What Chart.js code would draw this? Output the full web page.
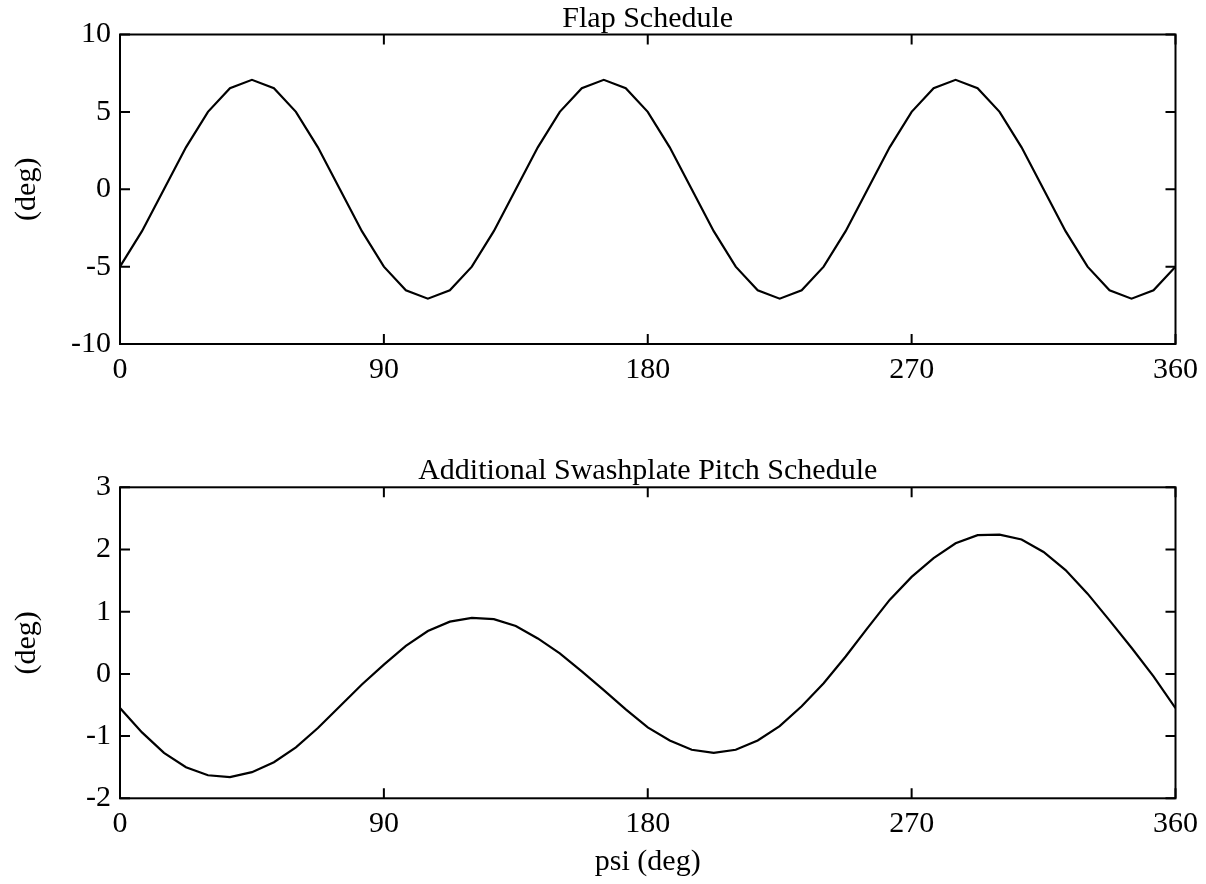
<!DOCTYPE html>
<html>
<head>
<meta charset="utf-8">
<title>Flap and Swashplate Pitch Schedules</title>
<script src="https://cdn.jsdelivr.net/npm/chart.js@4/dist/chart.umd.min.js"></script>
<style>
  html, body { margin: 0; padding: 0; background: #fff; }
  #page { position: relative; width: 1206px; height: 884px; overflow: hidden; }
  #flapChart { position: absolute; left: 0; top: 0; }
  #swashChart { position: absolute; left: 0; top: 440px; }
</style>
</head>
<body>
<div id="page">
  <canvas id="flapChart" width="1206" height="400"></canvas>
  <canvas id="swashChart" width="1206" height="444"></canvas>
</div>
<script>
// azimuth psi (deg), one point every 7.5 deg
const psi = [0, 7.5, 15, 22.5, 30, 37.5, 45, 52.5, 60, 67.5, 75, 82.5,
    90, 97.5, 105, 112.5, 120, 127.5, 135, 142.5, 150, 157.5, 165, 172.5,
    180, 187.5, 195, 202.5, 210, 217.5, 225, 232.5, 240, 247.5, 255, 262.5,
    270, 277.5, 285, 292.5, 300, 307.5, 315, 322.5, 330, 337.5, 345, 352.5, 360];

// flap schedule (deg)
const flap = [-5.0, -2.71, 0.0, 2.71, 5.0, 6.53, 7.07, 6.53, 5.0, 2.71, 0.0, -2.71,
    -5.0, -6.53, -7.07, -6.53, -5.0, -2.71, 0.0, 2.71, 5.0, 6.53, 7.07, 6.53,
    5.0, 2.71, 0.0, -2.71, -5.0, -6.53, -7.07, -6.53, -5.0, -2.71, 0.0, 2.71,
    5.0, 6.53, 7.07, 6.53, 5.0, 2.71, 0.0, -2.71, -5.0, -6.53, -7.07, -6.53, -5.0];

// additional swashplate pitch schedule (deg)
const swash = [-0.55, -0.94, -1.27, -1.50, -1.63, -1.66, -1.58, -1.42, -1.18, -0.87, -0.52, -0.17,
    0.15, 0.45, 0.69, 0.84, 0.90, 0.88, 0.77, 0.57, 0.33, 0.04, -0.26, -0.57,
    -0.86, -1.07, -1.22, -1.27, -1.22, -1.07, -0.84, -0.52, -0.15, 0.28, 0.74, 1.19,
    1.56, 1.86, 2.10, 2.23, 2.24, 2.16, 1.96, 1.67, 1.29, 0.86, 0.42, -0.04, -0.55];

const psiTicks = [0, 90, 180, 270, 360];
const flapTicks = [-10, -5, 0, 5, 10];
const swashTicks = [-2, -1, 0, 1, 2, 3];

const serif = '"Liberation Serif", "Times New Roman", serif';
const fontSize = 30;

// box round the plot with short inward tick marks on all four sides
const framePlugin = {
    id: 'frame',
    afterDatasetsDraw(chart) {
        const { ctx, chartArea: a, scales } = chart;
        const len = 10;
        ctx.save();
        ctx.strokeStyle = '#000';
        ctx.lineWidth = 2;
        ctx.beginPath();
        scales.x.ticks.forEach(t => {
            const px = scales.x.getPixelForValue(t.value);
            ctx.moveTo(px, a.bottom); ctx.lineTo(px, a.bottom - len);
            ctx.moveTo(px, a.top); ctx.lineTo(px, a.top + len);
        });
        scales.y.ticks.forEach(t => {
            const py = scales.y.getPixelForValue(t.value);
            ctx.moveTo(a.left, py); ctx.lineTo(a.left + len, py);
            ctx.moveTo(a.right, py); ctx.lineTo(a.right - len, py);
        });
        ctx.stroke();
        ctx.strokeRect(a.left, a.top, a.right - a.left, a.bottom - a.top);
        ctx.restore();
    }
};

function makeChart(id, values, yTicks, title, titlePad, xHeight, xTitle) {
    const ctx = document.getElementById(id).getContext('2d');
    return new Chart(ctx, {
        type: 'line',
        data: {
            datasets: [{
                data: psi.map((p, i) => ({ x: p, y: values[i] })),
                borderColor: '#000',
                borderWidth: 2.2,
                pointRadius: 0,
                tension: 0,
                fill: false
            }]
        },
        options: {
            responsive: false,
            animation: false,
            layout: { padding: { left: 0, right: 30, top: 0, bottom: 0 } },
            plugins: {
                legend: { display: false },
                tooltip: { enabled: false },
                title: {
                    display: true,
                    text: title,
                    fullSize: false,
                    color: '#000',
                    font: { family: serif, size: fontSize, weight: 'normal', lineHeight: 1 },
                    padding: titlePad
                }
            },
            scales: {
                x: {
                    type: 'linear',
                    min: psiTicks[0],
                    max: psiTicks[psiTicks.length - 1],
                    afterBuildTicks: s => { s.ticks = psiTicks.map(v => ({ value: v })); },
                    afterFit: s => { s.height = xHeight; },
                    grid: { display: false, drawTicks: false },
                    border: { display: false },
                    ticks: {
                        padding: 8,
                        maxRotation: 0,
                        color: '#000',
                        font: { family: serif, size: fontSize }
                    },
                    title: {
                        display: !!xTitle,
                        text: xTitle || '',
                        color: '#000',
                        font: { family: serif, size: fontSize, lineHeight: 1 },
                        padding: { top: 0, bottom: 7 }
                    }
                },
                y: {
                    min: yTicks[0],
                    max: yTicks[yTicks.length - 1],
                    afterBuildTicks: s => { s.ticks = yTicks.map(v => ({ value: v })); },
                    afterFit: s => { s.width = 120; },
                    grid: { display: false, drawTicks: false },
                    border: { display: false },
                    ticks: {
                        padding: 9,
                        color: '#000',
                        font: { family: serif, size: fontSize }
                    },
                    title: {
                        display: true,
                        text: '(deg)',
                        color: '#000',
                        font: { family: serif, size: fontSize, lineHeight: 1 },
                        padding: { top: 12.5, bottom: 0 }
                    }
                }
            }
        },
        plugins: [framePlugin]
    });
}

makeChart('flapChart', flap, flapTicks, 'Flap Schedule',
    { top: 4, bottom: 0.5 }, 56, null);
makeChart('swashChart', swash, swashTicks, 'Additional Swashplate Pitch Schedule',
    { top: 16, bottom: 1.3 }, 85.7, 'psi (deg)');
</script>
</body>
</html>
